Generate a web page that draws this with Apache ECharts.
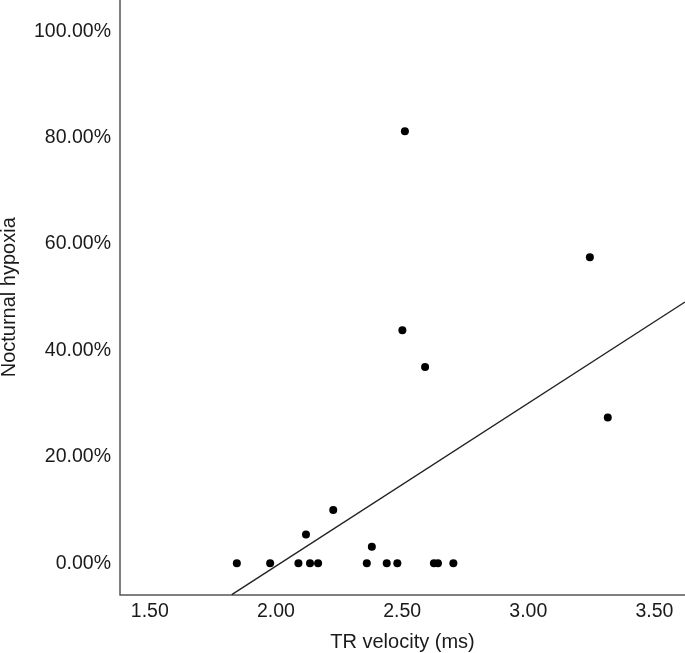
<!DOCTYPE html>
<html>
<head>
<meta charset="utf-8">
<script src="https://cdn.jsdelivr.net/npm/echarts@6/dist/echarts.min.js"></script>
<style>
  html, body { margin: 0; padding: 0; background: #fff; }
  #chart { width: 685px; height: 653px; }
</style>
</head>
<body>
<div id="chart"></div>
<script>
// TR velocity (m/s) per patient
const velocity = [1.845, 1.977, 2.089, 2.135, 2.167, 2.119, 2.227, 2.360, 2.380, 2.439,
  2.481, 2.626, 2.642, 2.703, 2.511, 3.244, 2.501, 2.591, 3.315];
// Nocturnal hypoxia (%) for the same patients
const hypoxia = [0, 0, 0, 0, 0, 5.4, 10.0, 0, 3.1, 0,
  0, 0, 0, 0, 81.2, 57.5, 43.8, 36.9, 27.4];
// fitted line, two ends in data units
const fitLine = [[1.825, -5.92], [3.621, 49.1]];
const xTicks = [1.5, 2.0, 2.5, 3.0, 3.5];
const yTicks = [0, 20, 40, 60, 80, 100];

const font = '"Liberation Sans", Arial, Helvetica, sans-serif';
const ink = '#1a1a1a';

const chart = echarts.init(document.getElementById('chart'), null, { renderer: 'canvas' });
chart.setOption({
  animation: false,
  backgroundColor: '#fff',
  // labels sit outside the grid on purpose, so no auto shrinking
  grid: { left: 120, top: 0, right: 0, bottom: 58.5, containLabel: false, outerBoundsMode: 'none' },
  xAxis: {
    type: 'value',
    min: 1.382, max: 3.621,
    name: 'TR velocity (ms)',
    nameLocation: 'middle',
    nameGap: 38,
    nameTextStyle: { fontFamily: font, fontSize: 20, color: ink },
    axisLine: { show: true, onZero: false, lineStyle: { color: '#555', width: 1.5 } },
    axisTick: { show: false },
    splitLine: { show: false },
    axisLabel: {
      customValues: xTicks,
      margin: 7,
      fontFamily: font, fontSize: 19.5, color: ink,
      formatter: v => v.toFixed(2)
    }
  },
  yAxis: {
    type: 'value',
    min: -5.9, max: 105.9,
    name: 'Nocturnal hypoxia',
    nameLocation: 'middle',
    nameGap: 101,
    nameTextStyle: { fontFamily: font, fontSize: 20, color: ink },
    axisLine: { show: true, onZero: false, lineStyle: { color: '#555', width: 1.5 } },
    axisTick: { show: false },
    splitLine: { show: false },
    axisLabel: {
      customValues: yTicks,
      margin: 9,
      fontFamily: font, fontSize: 19.5, color: ink,
      formatter: v => v.toFixed(2) + '%'
    }
  },
  series: [
    {
      type: 'line',
      data: fitLine,
      symbol: 'none',
      clip: true,
      lineStyle: { color: '#222', width: 1.4 },
      z: 1
    },
    {
      type: 'scatter',
      data: velocity.map((v, i) => [v, hypoxia[i]]),
      symbol: 'circle',
      symbolSize: 8,
      itemStyle: { color: '#000', opacity: 1 },
      z: 2
    }
  ]
});
</script>
</body>
</html>
